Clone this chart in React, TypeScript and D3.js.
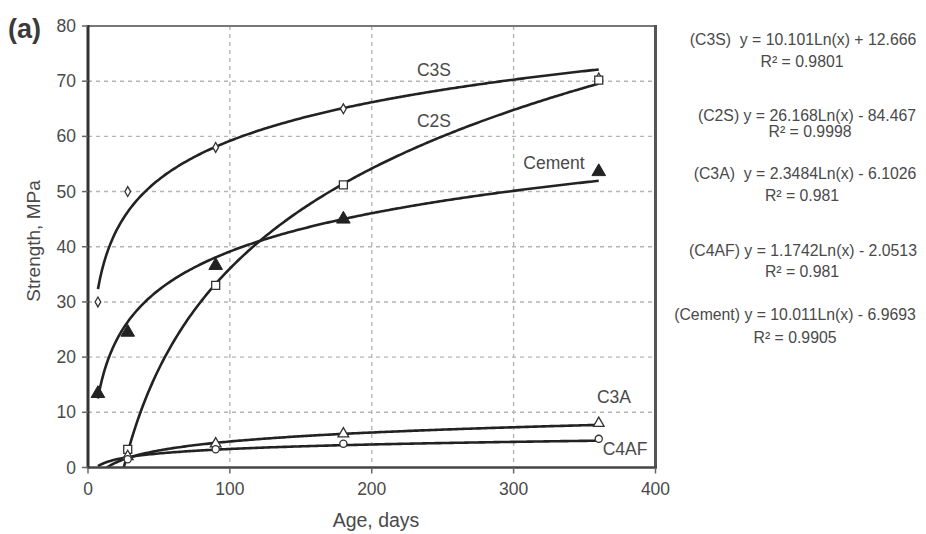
import React from 'react';
import * as d3 from 'd3';

// ---- data ----
const ages = [7, 28, 90, 180, 360];
const seriesNames = ['C3S', 'C2S', 'Cement', 'C3A', 'C4AF'];
const c3sValues: (number | null)[] = [30, 50, 58, 65, 70.6];
const c2sValues: (number | null)[] = [null, 3.3, 33, 51.2, 70.2];
const cementValues: (number | null)[] = [13.4, 24.5, 36.6, 45, 53.6];
const c3aValues: (number | null)[] = [null, 2, 4.3, 6.1, 8];
const c4afValues: (number | null)[] = [null, 1.5, 3.3, 4.3, 5.2];

// logarithmic trendlines printed on the chart: y = a ln(x) + b
const fitA = [10.101, 26.168, 10.011, 2.3484, 1.1742];
const fitB = [12.666, -84.467, -6.9693, -6.1026, -2.0513];
const fitStart = [7, 7, 7, 7, 7];
const fitEnd = [360, 360, 360, 360, 360];

const eqLabels = [
  '(C3S)  y = 10.101Ln(x) + 12.666',
  '(C2S) y = 26.168Ln(x) - 84.467',
  '(C3A)  y = 2.3484Ln(x) - 6.1026',
  '(C4AF) y = 1.1742Ln(x) - 2.0513',
  '(Cement) y = 10.011Ln(x) - 6.9693',
];
const r2Labels = ['R² = 0.9801', 'R² = 0.9998', 'R² = 0.981', 'R² = 0.981', 'R² = 0.9905'];

const xTicks = [0, 100, 200, 300, 400];
const yTicks = [0, 10, 20, 30, 40, 50, 60, 70, 80];
const xGrid = [100, 200, 300];
const yGrid = [10, 20, 30, 40, 50, 60, 70];

const allValues = [c3sValues, c2sValues, cementValues, c3aValues, c4afValues];

// ---- layout ----
const W = 926, H = 534;
const x = d3.scaleLinear().domain([0, 400]).range([88, 655.5]);
const y = d3.scaleLinear().domain([0, 80]).range([467.5, 26]);

const FONT = '"Liberation Sans", Arial, Helvetica, sans-serif';
const TXT = '#4a4a4a';

const labelPos = [
  { x: 434, y: 76 },
  { x: 434, y: 127 },
  { x: 554, y: 169 },
  { x: 614, y: 403 },
  { x: 625, y: 455 },
];
const eqPos = [
  { cx: 803, y: 45, rx: 802, ry: 67 },
  { cx: 807, y: 121, rx: 810, ry: 137 },
  { cx: 805, y: 179, rx: 802, ry: 201 },
  { cx: 803, y: 256, rx: 802, ry: 277 },
  { cx: 795, y: 320, rx: 795, ry: 343 },
];

function Marker({ kind, cx, cy }: { kind: number; cx: number; cy: number }) {
  const stroke = '#333';
  if (kind === 0) {
    const p = d3.symbol().type(d3.symbolDiamond).size(28)();
    return <path d={p!} transform={`translate(${cx},${cy})`} fill="#fff" stroke={stroke} strokeWidth={1.3} />;
  }
  if (kind === 1) {
    const p = d3.symbol().type(d3.symbolSquare).size(64)();
    return <path d={p!} transform={`translate(${cx},${cy})`} fill="#fff" stroke={stroke} strokeWidth={1.3} />;
  }
  if (kind === 2) {
    const p = d3.symbol().type(d3.symbolTriangle).size(80)();
    return <path d={p!} transform={`translate(${cx},${cy})`} fill="#222" stroke="#222" strokeWidth={1} />;
  }
  if (kind === 3) {
    const p = d3.symbol().type(d3.symbolTriangle).size(50)();
    return <path d={p!} transform={`translate(${cx},${cy})`} fill="#fff" stroke={stroke} strokeWidth={1.3} />;
  }
  const p = d3.symbol().type(d3.symbolCircle).size(40)();
  return <path d={p!} transform={`translate(${cx},${cy})`} fill="#fff" stroke={stroke} strokeWidth={1.3} />;
}

export default function App() {
  const line = d3
    .line<[number, number]>()
    .x((d) => x(d[0]))
    .y((d) => y(d[1]))
    .curve(d3.curveLinear);

  const trend = (i: number) => {
    const n = 240;
    const pts: [number, number][] = [];
    for (let k = 0; k <= n; k++) {
      const xv = fitStart[i] + ((fitEnd[i] - fitStart[i]) * k) / n;
      pts.push([xv, fitA[i] * Math.log(xv) + fitB[i]]);
    }
    return line(pts) || '';
  };

  const [x0, x1] = x.range();
  const [yb, yt] = y.range();

  return (
    <svg width={W} height={H} style={{ position: 'absolute', left: 0, top: 0, background: '#fff' }} fontFamily={FONT}>
      <defs>
        <clipPath id="plotClip">
          <rect x={x0} y={yt} width={x1 - x0} height={yb - yt} />
        </clipPath>
      </defs>
      <rect x={0} y={0} width={W} height={H} fill="#fff" />

      {/* grid */}
      {xGrid.map((t) => (
        <line key={'gx' + t} x1={x(t)} x2={x(t)} y1={yt} y2={yb} stroke="#b5b5b5" strokeWidth={1.4} strokeDasharray="4,4" />
      ))}
      {yGrid.map((t) => (
        <line key={'gy' + t} x1={x0} x2={x1} y1={y(t)} y2={y(t)} stroke="#b5b5b5" strokeWidth={1.4} strokeDasharray="4,4" />
      ))}

      {/* trendlines */}
      <g clipPath="url(#plotClip)">
        {seriesNames.map((s, i) => (
          <path key={'t' + s} d={trend(i)} fill="none" stroke="#222" strokeWidth={2.6} strokeLinejoin="round" />
        ))}
      </g>

      {/* markers */}
      {allValues.map((vals, i) =>
        vals.map((v, j) =>
          v == null ? null : <Marker key={`m${i}-${j}`} kind={i} cx={x(ages[j])} cy={y(v)} />
        )
      )}

      {/* frame */}
      <line x1={x0} x2={x1} y1={yt} y2={yt} stroke="#777" strokeWidth={2} />
      <line x1={x1} x2={x1} y1={yt - 1} y2={yb} stroke="#555" strokeWidth={3} />
      <line x1={x0} x2={x1 + 1.5} y1={yb} y2={yb} stroke="#444" strokeWidth={2.5} />
      <line x1={x0} x2={x0} y1={yt - 1} y2={yb + 1} stroke="#333" strokeWidth={3} />

      {/* y ticks */}
      {yTicks.map((t) => (
        <g key={'yt' + t}>
          <line x1={x0 - 6} x2={x0} y1={y(t)} y2={y(t)} stroke="#666" strokeWidth={1.5} />
          <text x={76} y={y(t) + 6} textAnchor="end" fontSize={17.5} fill={TXT}>{t}</text>
        </g>
      ))}
      {/* x ticks */}
      {xTicks.map((t) => (
        <g key={'xt' + t}>
          <line x1={x(t)} x2={x(t)} y1={yb} y2={yb + 6} stroke="#666" strokeWidth={1.5} />
          <text x={x(t)} y={495} textAnchor="middle" fontSize={17.5} fill={TXT}>{t}</text>
        </g>
      ))}

      {/* axis titles */}
      <text x={376} y={527} textAnchor="middle" fontSize={19.5} fill={TXT}>Age, days</text>
      <text transform={`translate(40,241) rotate(-90)`} textAnchor="middle" fontSize={19} fill={TXT}>Strength, MPa</text>
      <text x={8} y={38} fontSize={27} fontWeight="bold" fill="#3a3a3a">(a)</text>

      {/* series labels */}
      {seriesNames.map((s, i) => (
        <text key={'l' + s} x={labelPos[i].x} y={labelPos[i].y} textAnchor="middle" fontSize={17.5} fill={TXT}>{s}</text>
      ))}

      {/* equations */}
      {eqLabels.map((e, i) => (
        <g key={'e' + i}>
          <text x={eqPos[i].cx} y={eqPos[i].y} textAnchor="middle" fontSize={15.8} fill={TXT} style={{ whiteSpace: 'pre' }}>{e}</text>
          <text x={eqPos[i].rx} y={eqPos[i].ry} textAnchor="middle" fontSize={15.8} fill={TXT}>{r2Labels[i]}</text>
        </g>
      ))}
    </svg>
  );
}
